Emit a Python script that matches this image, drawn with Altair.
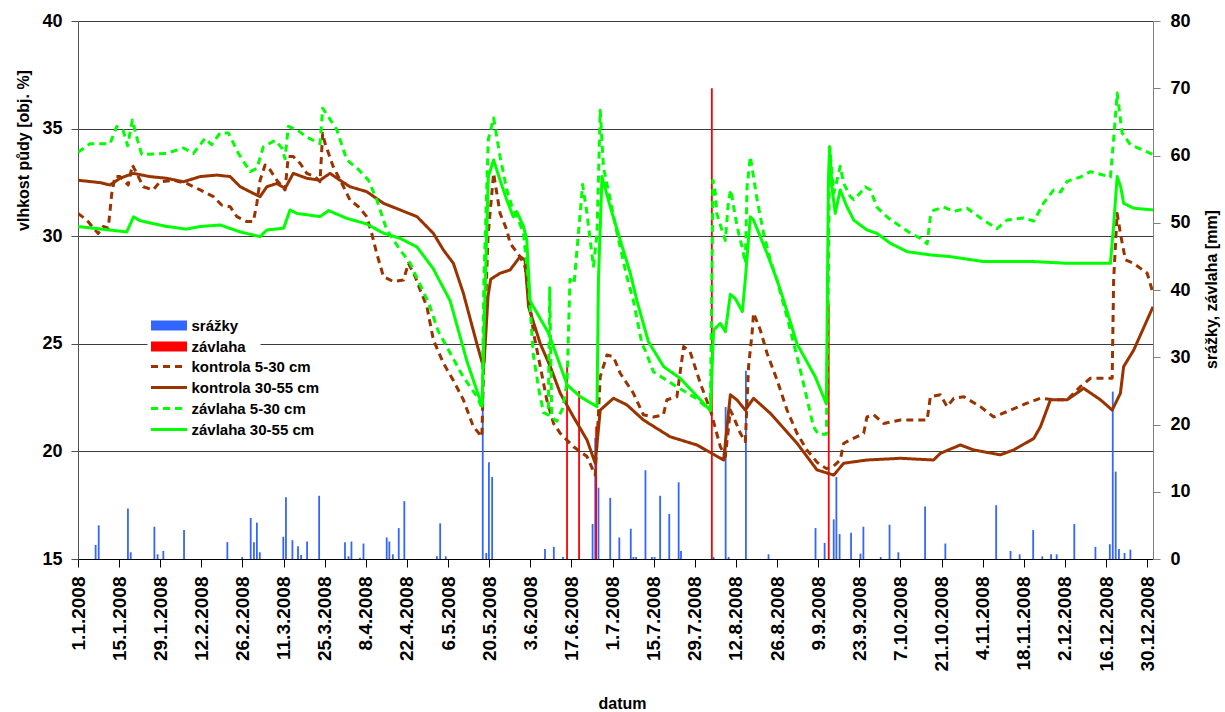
import altair as alt
import pandas as pd

# Legend entries, colours and line styles
BAR_SERIES = ["srážky", "závlaha"]
BAR_COLORS = ["#3366FF", "#FF0000"]
LINE_SERIES = ["kontrola 5-30 cm", "kontrola 30-55 cm", "závlaha 5-30 cm", "závlaha 30-55 cm"]
LINE_COLORS = ["#993300", "#993300", "#00FF00", "#00FF00"]
LINE_DASHES = [[7, 5], [1, 0], [7, 5], [1, 0]]

# x positions are days since 1.1.2008
TICK_DAYS = list(range(0, 365, 14))

# daily precipitation [mm]: (day, mm)
rain = [(6.0, 2.1), (7.05, 5.0), (17.0, 7.5), (17.95, 1.0), (26.0, 4.8), (27.1, 0.7),
        (29.05, 1.2), (36.1, 4.3), (50.85, 2.5), (55.9, 0.3), (58.8, 6.1), (59.9, 2.5),
        (60.9, 5.4), (61.9, 1.0), (69.9, 3.3), (70.8, 9.2), (73.0, 2.8), (74.9, 1.9),
        (75.95, 0.6), (78.0, 2.6), (82.1, 9.4), (90.9, 2.5), (92.1, 0.4), (93.1, 2.6),
        (96.0, 0.2), (97.2, 2.3), (105.1, 3.2), (106.0, 2.6), (107.2, 0.7), (109.2, 4.6),
        (111.1, 8.6), (122.2, 0.4), (123.3, 5.3), (125.2, 0.4), (137.8, 31.0), (139.0, 0.9),
        (139.9, 14.4), (141.0, 12.2), (159.0, 1.5), (162.0, 1.8), (165.1, 0.3), (175.2, 5.2),
        (176.1, 18.0), (177.2, 10.6), (181.2, 9.1), (184.3, 3.2), (188.2, 4.5), (189.1, 0.3),
        (190.0, 0.3), (193.2, 13.2), (195.4, 0.3), (196.3, 0.3), (198.2, 9.4), (201.3, 6.7),
        (204.5, 11.4), (205.3, 1.2), (216.4, 0.3), (220.5, 22.6), (221.5, 0.3), (227.4, 28.0),
        (235.1, 0.7), (251.1, 4.6), (254.2, 2.4), (257.3, 5.9), (258.2, 12.2), (259.3, 3.7),
        (263.2, 3.9), (266.4, 0.8), (267.4, 4.8), (273.3, 0.3), (276.3, 5.1), (279.3, 1.0),
        (288.4, 7.8), (295.3, 2.3), (312.6, 8.0), (317.5, 1.2), (320.6, 0.7), (325.2, 4.3),
        (328.3, 0.4), (331.3, 0.7), (333.2, 0.7), (339.2, 5.2), (346.4, 1.8), (351.3, 2.2),
        (352.3, 24.9), (353.3, 13.0), (354.4, 1.5), (356.3, 0.9), (358.3, 1.4)]

# irrigation doses [mm]: (day, mm)
irrigation = [(166.5, 29.0), (170.6, 25.0), (176.4, 19.7), (215.8, 70.0), (255.6, 38.0)]

# soil moisture [% vol.]: (day, value)
kontrola_5_30 = [
    (0, 31.06), (3.0, 30.75), (5.8, 30.29), (6.9, 30.13), (8.6, 30.45), (10.3, 30.37),
    (11.5, 31.99), (12.6, 32.77), (14.3, 32.77), (16.0, 32.53), (17.1, 32.38), (18.5, 33.31),
    (20.0, 32.92), (22.2, 32.3), (25.6, 32.15), (27.9, 32.53), (32.5, 32.6), (37.0, 32.45),
    (41.6, 32.15), (46.1, 31.84), (48.9, 31.45), (51.8, 31.37), (54.1, 30.91), (57.5, 30.68),
    (59.7, 30.68), (60.9, 31.53), (62.0, 32.6), (63.7, 33.31), (65.4, 33.08), (67.7, 32.6),
    (70.5, 32.15), (71.6, 33.7), (73.3, 33.7), (75.6, 33.39), (77.9, 32.92), (80.7, 32.77),
    (82.4, 32.53), (83.3, 34.78), (84.1, 34.32), (86.9, 33.23), (90.4, 32.3), (92.6, 31.68),
    (95.5, 31.37), (98.3, 30.91), (100.0, 30.13), (101.7, 29.2), (104.0, 28.12), (107.4, 27.89),
    (110.8, 27.96), (112.5, 28.74), (114.8, 28.12), (116.5, 27.5), (118.8, 26.72), (121.0, 25.18),
    (124.4, 24.1), (127.8, 23.3), (131.2, 22.4), (134.6, 21.15), (137.5, 20.68), (138.3, 25.0),
    (139.6, 30.0), (141.5, 32.92), (143.7, 31.06), (146.0, 30.29), (147.1, 29.67), (148.8, 29.36),
    (150.5, 29.05), (152.2, 28.58), (153.4, 27.35), (155.1, 25.5), (157.4, 23.94), (159.6, 22.4),
    (161.9, 21.3), (164.2, 20.84), (168.7, 20.22), (173.3, 19.76), (176.1, 18.9), (177.1, 21.5),
    (177.8, 23.47), (180.1, 24.48), (182.3, 24.4), (184.6, 23.63), (189.1, 22.7), (192.5, 21.7),
    (195.9, 21.6), (199.3, 21.7), (200.5, 22.4), (203.9, 22.54), (206.2, 24.87), (208.4, 24.63),
    (211.9, 23.16), (215.3, 21.92), (218.7, 20.22), (220.4, 19.76), (221.5, 21.15), (222.1, 21.92),
    (223.2, 21.6), (225.5, 20.84), (227.2, 20.45), (228.3, 23.94), (229.5, 25.5), (230.0, 26.43),
    (232.3, 25.64), (234.6, 24.56), (238.0, 23.32), (241.4, 21.92), (244.8, 20.84), (248.2, 20.06),
    (251.6, 19.5), (254.8, 19.2), (257.1, 19.3), (259.5, 19.6), (260.7, 20.38), (262.9, 20.53),
    (267.5, 20.84), (268.6, 21.6), (270.9, 21.7), (274.3, 21.3), (280.0, 21.46), (289.1, 21.46),
    (290.2, 22.54), (293.6, 22.63), (295.9, 22.08), (298.2, 22.47), (301.6, 22.54), (307.2, 22.08),
    (311.8, 21.6), (316.3, 21.85), (323.1, 22.24), (327.7, 22.47), (332.2, 22.4), (336.8, 22.4),
    (341.3, 23.01), (344.7, 23.4), (352.1, 23.4), (352.6, 28.0), (353.8, 31.06), (354.9, 30.13),
    (356.6, 28.9), (359.4, 28.74), (364.0, 28.28), (365.7, 27.5)]

kontrola_30_55 = [
    (0, 32.6), (7.5, 32.49), (10.9, 32.38), (14.3, 32.69), (18.8, 32.92), (24.5, 32.77),
    (30.2, 32.69), (35.9, 32.53), (41.6, 32.77), (47.2, 32.84), (51.8, 32.77), (55.2, 32.3),
    (59.7, 31.99), (62.0, 31.84), (64.3, 32.3), (67.7, 32.45), (70.5, 32.22), (73.3, 32.92),
    (77.9, 32.69), (82.4, 32.6), (85.8, 32.92), (89.2, 32.6), (92.6, 32.3), (98.3, 32.07),
    (104.0, 31.53), (109.7, 31.22), (115.4, 30.91), (121.0, 30.13), (124.4, 29.36), (127.8, 28.74),
    (131.2, 27.35), (135.8, 25.0), (138.0, 23.94), (138.3, 24.2), (139.6, 27.2), (140.5, 28.0),
    (143.7, 28.28), (147.1, 28.43), (148.8, 28.74), (150.5, 29.05), (152.2, 28.9), (153.4, 26.72),
    (157.4, 25.0), (160.8, 23.94), (164.2, 22.7), (168.7, 21.6), (173.3, 20.53), (176.1, 19.45),
    (177.8, 21.92), (182.3, 22.47), (186.9, 22.16), (192.5, 21.46), (201.6, 20.68), (210.7, 20.3),
    (219.8, 19.6), (222.1, 22.63), (224.3, 22.4), (227.2, 21.92), (230.0, 22.47), (235.7, 21.77),
    (244.8, 20.38), (251.6, 19.14), (257.3, 18.9), (260.7, 19.45), (268.6, 19.6), (280.0, 19.68),
    (291.3, 19.6), (293.6, 19.91), (300.4, 20.3), (304.9, 20.07), (314.0, 19.84), (318.6, 20.07),
    (325.4, 20.6), (327.7, 21.15), (331.1, 22.4), (336.8, 22.4), (342.4, 22.93), (348.1, 22.4),
    (352.1, 21.92), (354.9, 22.7), (356.0, 23.94), (359.4, 24.7), (366, 26.72)]

zavlaha_5_30 = [
    (0, 33.9), (4.1, 34.3), (10.9, 34.3), (13.2, 35.1), (15.4, 34.9), (16.9, 34.2), (18.5, 35.4),
    (20.2, 34.5), (21.7, 33.8), (30.2, 33.85), (35.9, 34.1), (39.3, 33.85), (43.3, 34.55),
    (45.5, 34.25), (48.4, 34.8), (51.2, 34.8), (54.6, 33.85), (58.6, 33.0), (60.9, 33.15),
    (63.1, 34.15), (67.1, 34.45), (69.4, 34.1), (70.5, 33.6), (71.6, 35.1), (74.5, 34.95),
    (77.9, 34.6), (82.4, 34.3), (83.3, 35.95), (88.1, 34.95), (91.5, 33.55), (95.5, 33.1),
    (98.9, 32.6), (101.7, 31.7), (105.1, 30.3), (109.7, 29.35), (113.1, 28.75), (115.4, 28.05),
    (119.4, 26.9), (122.6, 25.6), (125.0, 25.0), (131.0, 23.5), (135.8, 22.55), (137.6, 22.0),
    (138.2, 28.0), (139.7, 34.5), (141.5, 35.5), (143.7, 33.7), (146.0, 32.15), (147.7, 31.4),
    (150.0, 30.75), (151.7, 30.1), (153.4, 27.8), (155.0, 24.5), (157.0, 22.8), (158.5, 21.8),
    (160.1, 21.7), (160.6, 27.6), (161.3, 21.6), (163.0, 21.4), (165.0, 22.0), (166.5, 23.2),
    (167.5, 28.0), (168.9, 27.8), (171.8, 32.4), (173.3, 31.05), (174.4, 29.8), (175.5, 28.6),
    (176.7, 30.1), (177.8, 35.85), (178.9, 33.2), (181.2, 31.7), (183.5, 30.15), (186.9, 28.1),
    (189.1, 27.0), (192.0, 25.0), (193.1, 24.7), (195.9, 23.7), (200.5, 23.3), (203.9, 23.0),
    (210.1, 22.5), (215.3, 21.9), (216.2, 32.6), (217.0, 32.0), (217.5, 31.05), (219.2, 30.3),
    (220.4, 29.8), (221.5, 31.7), (222.3, 32.15), (223.8, 30.9), (224.9, 30.15), (226.1, 29.5),
    (227.2, 28.75), (227.8, 32.3), (228.9, 33.7), (231.2, 31.7), (233.4, 30.15), (235.7, 28.9),
    (238.0, 27.95), (241.4, 26.25), (245.9, 23.8), (250.4, 21.15), (252.0, 20.8), (254.8, 20.8),
    (255.4, 27.0), (255.9, 34.15), (257.3, 32.0), (258.4, 32.6), (259.5, 33.25), (260.7, 32.45),
    (262.9, 31.85), (264.1, 31.7), (266.3, 32.0), (268.0, 32.3), (269.8, 32.15), (272.0, 31.35),
    (275.4, 30.9), (280.0, 30.45), (283.4, 30.15), (286.8, 29.9), (289.1, 29.65), (290.2, 30.9),
    (291.3, 31.2), (294.7, 31.35), (298.1, 31.15), (302.7, 31.3), (308.3, 30.75), (312.9, 30.35),
    (316.3, 30.75), (322.0, 30.85), (325.4, 30.7), (328.8, 31.55), (332.2, 32.15), (334.5, 32.05),
    (336.8, 32.55), (341.3, 32.75), (344.7, 33.0), (351.5, 32.75), (352.6, 34.5), (353.8, 36.65),
    (355.5, 34.8), (358.3, 34.25), (365.1, 33.85), (366, 33.8)]

zavlaha_30_55 = [
    (0, 30.45), (16.6, 30.2), (18.9, 30.9), (21.1, 30.72), (30.2, 30.45), (37.0, 30.33),
    (41.6, 30.45), (48.4, 30.52), (55.2, 30.2), (62.0, 29.98), (64.3, 30.29), (70.0, 30.37),
    (72.2, 31.22), (74.5, 31.06), (82.4, 30.91), (85.3, 31.19), (91.5, 30.83), (98.3, 30.57),
    (104.0, 30.14), (109.7, 29.9), (115.4, 29.5), (120.9, 28.5), (126.7, 27.0), (132.4, 24.2),
    (137.6, 22.1), (138.3, 26.0), (139.7, 32.77), (141.5, 33.54), (143.7, 32.6), (146.0, 31.68),
    (148.2, 30.9), (149.4, 31.14), (151.7, 30.45), (152.8, 29.82), (153.9, 27.0), (160.2, 25.5),
    (166.5, 23.1), (171.0, 22.54), (176.7, 22.08), (177.2, 28.0), (178.4, 32.77), (181.2, 31.37),
    (184.6, 29.82), (188.0, 28.3), (190.3, 27.0), (194.2, 25.1), (199.4, 23.94), (205.0, 23.4),
    (215.3, 21.9), (216.4, 25.64), (218.7, 25.95), (220.4, 25.56), (222.1, 27.3), (223.8, 27.1),
    (226.2, 26.5), (227.2, 28.0), (228.9, 30.9), (230.0, 30.75), (234.6, 29.2), (238.0, 27.96),
    (240.3, 27.0), (244.8, 25.0), (251.0, 23.47), (254.8, 22.2), (255.5, 32.6), (255.9, 34.16),
    (256.7, 32.3), (257.8, 31.06), (259.5, 32.15), (261.8, 31.37), (264.1, 30.75), (268.6, 30.29),
    (272.0, 30.13), (276.6, 29.67), (282.3, 29.28), (290.2, 29.13), (297.0, 29.05), (308.3, 28.82),
    (325.4, 28.82), (336.8, 28.74), (351.5, 28.74), (352.6, 30.5), (353.8, 32.77), (355.0, 32.3),
    (356.0, 31.53), (359.4, 31.3), (366, 31.22)]

FONT = "Liberation Sans"


def frame(points, name, cols):
    df = pd.DataFrame(points, columns=cols)
    df["series"] = name
    return df


bars = pd.concat([frame(rain, "srážky", ["day", "mm"]),
                  frame(irrigation, "závlaha", ["day", "mm"])], ignore_index=True)
bars["zero"] = 0.0

lines = pd.concat([
    frame(kontrola_5_30, "kontrola 5-30 cm", ["day", "val"]),
    frame(kontrola_30_55, "kontrola 30-55 cm", ["day", "val"]),
    frame(zavlaha_5_30, "závlaha 5-30 cm", ["day", "val"]),
    frame(zavlaha_30_55, "závlaha 30-55 cm", ["day", "val"]),
], ignore_index=True)

# shared legend styling: swatches 36 px long at symbolSize 16
legend_style = dict(
    orient="none", title=None, symbolSize=16,
    labelFont=FONT, labelFontSize=15, labelFontWeight="bold", labelColor="black",
    labelOffset=15, rowPadding=5, fillColor="white",
)
bar_legend = alt.Legend(legendX=69.5, legendY=283, padding=14,
                        symbolType="M-9,-2.5H9V2.5H-9Z", symbolStrokeWidth=0, **legend_style)
line_legend = alt.Legend(legendX=77.5, legendY=332, padding=6,
                         symbolType="M-9,0H9", symbolStrokeWidth=3, **legend_style)

x_enc = alt.X(
    "day:Q",
    scale=alt.Scale(domain=[0, 366], nice=False, zero=False, padding=0),
    axis=alt.Axis(
        values=TICK_DAYS,
        labelExpr="timeFormat(datetime(2008, 0, 1 + datum.value), '%-d.%-m.%Y')",
        labelAngle=270, labelAlign="right", labelBaseline="middle",
        labelFont=FONT, labelFontSize=19, labelFontWeight="bold", labelColor="black",
        tickSize=8, labelPadding=9, tickColor="black", domainColor="black",
        grid=False, title="datum", titleFont=FONT, titleFontSize=16,
        titleFontWeight="bold", titleColor="black", titleX=544, titleY=144,
        titleBaseline="middle", titleAlign="center", labelOverlap=False,
    ),
)

bar_layer = alt.Chart(bars).mark_bar(size=1.8).encode(
    x=x_enc,
    y=alt.Y(
        "mm:Q",
        scale=alt.Scale(domain=[0, 80], nice=False),
        axis=alt.Axis(
            orient="right", values=list(range(0, 81, 10)), grid=False,
            labelFont=FONT, labelFontSize=18, labelFontWeight="bold", labelColor="black",
            tickSize=7, labelPadding=10, tickColor="#808080", domainColor="#808080",
            title="srážky, závlaha [mm]", titleFont=FONT, titleFontSize=16,
            titleFontWeight="bold", titleColor="black", titleAngle=270,
            titleX=58, titleY=268, titleAlign="center", titleBaseline="middle",
        ),
    ),
    y2="zero:Q",
    color=alt.Color("series:N", scale=alt.Scale(domain=BAR_SERIES, range=BAR_COLORS),
                    legend=bar_legend),
)

line_layer = alt.Chart(lines).mark_line(
    strokeWidth=3, strokeCap="butt", strokeJoin="round", clip=True
).encode(
    x=x_enc,
    y=alt.Y(
        "val:Q",
        scale=alt.Scale(domain=[15, 40], nice=False, zero=False),
        axis=alt.Axis(
            orient="left", values=[15, 20, 25, 30, 35, 40], grid=True,
            gridColor="#3c3c3c", gridWidth=1,
            labelFont=FONT, labelFontSize=18, labelFontWeight="bold", labelColor="black",
            tickSize=7, labelPadding=9, tickColor="#505050", domainColor="#505050",
            title="vlhkost půdy [obj. %]", titleFont=FONT, titleFontSize=16,
            titleFontWeight="bold", titleColor="black", titleAngle=270,
            titleX=-55, titleY=129, titleAlign="center", titleBaseline="middle",
        ),
    ),
    color=alt.Color("series:N", scale=alt.Scale(domain=LINE_SERIES, range=LINE_COLORS),
                    legend=line_legend),
    strokeDash=alt.StrokeDash("series:N", scale=alt.Scale(domain=LINE_SERIES, range=LINE_DASHES),
                              legend=line_legend),
    detail="series:N",
)

chart = alt.layer(bar_layer, line_layer).resolve_scale(
    y="independent", color="independent", strokeDash="independent"
).properties(
    width=1075, height=538,
    autosize=alt.AutoSizeParams(type="none"),
    padding={"left": 78, "top": 21, "right": 72, "bottom": 153},
    background="white",
).configure_view(stroke=None).configure(font=FONT)

chart.save("out.html", embed_options={"renderer": "svg", "actions": False})
